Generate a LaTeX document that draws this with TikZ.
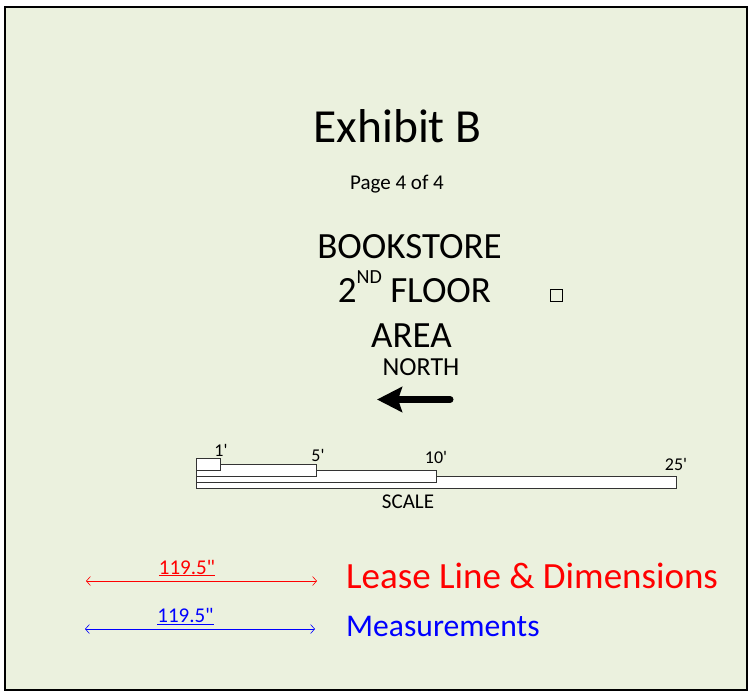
\documentclass[tikz,border=0pt]{standalone}
\usepackage{fontspec}
\setmainfont{Carlito}[Ligatures=TeXOff]
\usetikzlibrary{arrows.meta}

\definecolor{sheetgreen}{RGB}{235,241,222}
\newcommand{\fsz}[1]{\fontsize{#1}{#1}\selectfont}

\tikzset{
  txt/.style={inner sep=0pt, anchor=base},
  bar/.style={draw=black!80, fill=white, line width=0.8pt},
  dimline/.style={line width=0.6pt, {Straight Barb[length=4pt,width=9pt]}-{Straight Barb[length=4pt,width=9pt]}}
}

\begin{document}
\begin{tikzpicture}[x=1pt,y=-1pt]
\useasboundingbox (0,0) rectangle (749,697);
\draw[line width=2pt, fill=sheetgreen] (4.5,6.5) rectangle (746.5,690);

\node[txt, font=\fsz{47.5}] (title) at (397.5,142) {Exhibit B};
\node[txt, font=\fsz{21}] (page) at (397,189) {Page 4 of 4};

\node[txt, font=\fsz{37}] (store) at (409.5,258) {BOOKSTORE};
\node[txt, font=\fsz{37}] (floor) at (414.5,302) {2{\fsz{20}\raisebox{19pt}{ND}} FLOOR};
\node[txt, font=\fsz{37}] (area) at (411.5,347) {AREA};
\node[draw, minimum size=12pt, inner sep=0pt, line width=0.7pt] (box) at (556,295) {};

\node[txt, font=\fsz{26}] (north) at (421,375.7) {NORTH};
\coordinate (northtail) at (450,399.5);
\coordinate (northtip) at (377,399.5);
\draw[line width=7pt, line cap=round, -{Stealth[length=25pt,width=25pt,inset=4pt]}] (northtail) -- (northtip);

\draw[bar] (196,476) rectangle (196 + 480,488);
\draw[bar] (196,470) rectangle (196 + 240,482);
\draw[bar] (196,464) rectangle (196 + 120,476);
\draw[bar] (196,458) rectangle (196 + 24,470);
\node[txt, font=\fsz{18}] (one) at (196 + 25,456.5) {1'};
\node[txt, font=\fsz{18}] (five) at (196 + 122,461) {5'};
\node[txt, font=\fsz{18}] (ten) at (196 + 240,463.5) {10'};
\node[txt, font=\fsz{18}] (twentyfive) at (196 + 480,470.5) {25'};
\node[txt, font=\fsz{21}] (scale) at (408,508) {SCALE};

\coordinate (leaseL) at (86,581);
\coordinate (leaseR) at (317,581);
\draw[dimline, red] (leaseL) -- (leaseR);
\node[txt, font=\fsz{21}, text=red] (leasedim) at (187,574) {\underline{119.5"}};
\coordinate (measL) at (85,629);
\coordinate (measR) at (315,629);
\draw[dimline, blue] (measL) -- (measR);
\node[txt, font=\fsz{21}, text=blue] (measdim) at (185.5,622.5) {\underline{119.5"}};

\node[txt, anchor=base west, font=\fsz{37}, text=red] (leasekey) at (346,588) {Lease Line \& Dimensions};
\node[txt, anchor=base west, font=\fsz{31.6}, text=blue] (measkey) at (346,636) {Measurements};

\end{tikzpicture}
\end{document}
